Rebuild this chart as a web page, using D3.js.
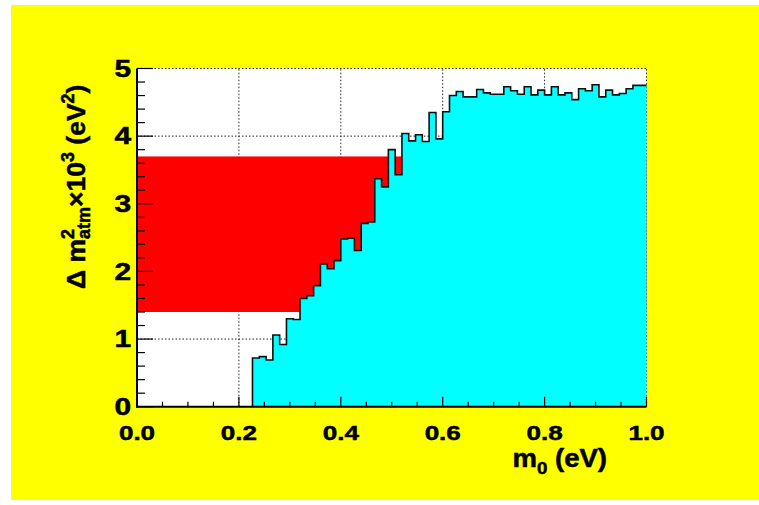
<!DOCTYPE html>
<html>
<head>
<meta charset="utf-8">
<script src="https://cdn.jsdelivr.net/npm/d3@7"></script>
<style>
  body { margin: 0; background: #fff; }
  text { font-family: "Liberation Sans", Arial, sans-serif; font-weight: bold; fill: #000;
         stroke: #000; stroke-width: 0.5px; }
</style>
</head>
<body>
<div id="chart"></div>
<script>
// histogram: 75 bins on [0,1], first filled bin is #17
const nBins = 75;
const firstBin = 17;
const binValues = [
  0.72, 0.74, 0.69, 1.06, 0.92, 1.30, 1.29, 1.60, 1.64, 1.79,
  2.11, 2.04, 2.16, 2.48, 2.49, 2.31, 2.71, 2.73, 3.37, 3.25,
  3.80, 3.43, 4.04, 3.93, 4.02, 3.92, 4.35, 3.96, 4.36, 4.60,
  4.66, 4.58, 4.58, 4.69, 4.64, 4.62, 4.62, 4.73, 4.67, 4.62,
  4.73, 4.61, 4.68, 4.61, 4.73, 4.61, 4.64, 4.54, 4.70, 4.67,
  4.76, 4.58, 4.68, 4.61, 4.63, 4.70, 4.75, 4.75
];
const band = [1.4, 3.7];
const xTicks = [0, 0.2, 0.4, 0.6, 0.8, 1.0];
const yTicks = [0, 1, 2, 3, 4, 5];

const W = 759, H = 505;
const padL = 137, padR = 646.5, padT = 68.5, padB = 406.7;

const svg = d3.select("#chart").append("svg")
  .attr("width", W)
  .attr("height", H);

svg.append("rect")
  .attr("x", 11).attr("y", 5)
  .attr("width", W - 11).attr("height", 495)
  .attr("fill", "#ffff00");

const x = d3.scaleLinear().domain([0, 1]).range([padL, padR]);
const y = d3.scaleLinear().domain([0, 5]).range([padB, padT]);

svg.append("rect")
  .attr("x", x(0)).attr("y", y(5))
  .attr("width", x(1) - x(0)).attr("height", y(0) - y(5))
  .attr("fill", "#fff");

// grid
const grid = svg.append("g")
  .attr("stroke", "#222")
  .attr("stroke-width", 1)
  .attr("stroke-dasharray", "1.5,2");
grid.selectAll(".gx").data(xTicks.slice(1)).enter().append("line")
  .attr("x1", d => x(d)).attr("x2", d => x(d))
  .attr("y1", y(0)).attr("y2", y(5));
grid.selectAll(".gy").data(yTicks.slice(1)).enter().append("line")
  .attr("x1", x(0)).attr("x2", x(1))
  .attr("y1", d => y(d)).attr("y2", d => y(d));

// red band
svg.append("rect")
  .attr("x", x(0)).attr("y", y(band[1]))
  .attr("width", x(1) - x(0)).attr("height", y(band[0]) - y(band[1]))
  .attr("fill", "#ff0000");

// histogram
const pts = binValues.map((v, i) => [(firstBin + i) / nBins, v]);
pts.push([1, binValues[binValues.length - 1]]);

const area = d3.area()
  .x(d => x(d[0])).y0(y(0)).y1(d => y(d[1]))
  .curve(d3.curveStepAfter);
svg.append("path").datum(pts)
  .attr("d", area)
  .attr("fill", "#00ffff");

const line = d3.line()
  .x(d => x(d[0])).y(d => y(d[1]))
  .curve(d3.curveStepAfter);
svg.append("path").datum([[firstBin / nBins, 0]].concat(pts))
  .attr("d", line)
  .attr("fill", "none")
  .attr("stroke", "#111")
  .attr("stroke-width", 1.6);

// axes lines and ticks
const ax = svg.append("g").attr("stroke", "#000");
ax.append("line").attr("x1", x(0)).attr("x2", x(0)).attr("y1", y(0) + 1).attr("y2", y(5))
  .attr("stroke-width", 2);
ax.append("line").attr("x1", x(0) - 1).attr("x2", x(1)).attr("y1", y(0)).attr("y2", y(0))
  .attr("stroke-width", 2);

const yMinor = d3.range(0, 5.001, 0.2);
ax.selectAll(".ty").data(yMinor).enter().append("line")
  .attr("x1", x(0))
  .attr("x2", d => x(0) + (Math.abs(d - Math.round(d)) < 1e-6 ? 16 : 8))
  .attr("y1", d => y(d)).attr("y2", d => y(d))
  .attr("stroke-width", 1.2);

const xMinor = d3.range(0, 1.0001, 0.05);
ax.selectAll(".tx").data(xMinor).enter().append("line")
  .attr("x1", d => x(d)).attr("x2", d => x(d))
  .attr("y1", y(0))
  .attr("y2", d => y(0) - (Math.abs(d * 5 - Math.round(d * 5)) < 1e-6 ? 10 : 5))
  .attr("stroke-width", 1.2);

// tick labels
svg.selectAll(".ylab").data(yTicks).enter().append("text")
  .attr("transform", d => `translate(131,${y(d) + 8.3}) scale(1.3,1)`)
  .attr("text-anchor", "end")
  .attr("font-size", 23)
  .text(d => d);

svg.selectAll(".xlab").data(xTicks).enter().append("text")
  .attr("transform", d => `translate(${x(d)},439.5) scale(1.3,1)`)
  .attr("text-anchor", "middle")
  .attr("font-size", 20)
  .text(d => d.toFixed(1));

// x title
const xt = svg.append("text")
  .attr("transform", "translate(607,467) scale(1.1,1)")
  .attr("text-anchor", "end")
  .attr("font-size", 25);
xt.append("tspan").text("m");
xt.append("tspan").attr("font-size", 17).attr("dy", 7).text("0");
xt.append("tspan").attr("dy", -7).text(" (eV)");

// y title
const yt = svg.append("text")
  .attr("transform", "translate(85,289) rotate(-90)")
  .attr("font-size", 26.5);
yt.append("tspan").text("\u0394 m");
const sup2 = yt.append("tspan").attr("font-size", 18).attr("dy", -11).text("2");
const w2 = sup2.node().getComputedTextLength();
yt.append("tspan").attr("font-size", 18).attr("dx", -w2).attr("dy", 16).text("atm");
yt.append("tspan").attr("dy", -5).text("\u00d710");
yt.append("tspan").attr("font-size", 18).attr("dy", -11).text("3");
yt.append("tspan").attr("dy", 11).text(" (eV");
yt.append("tspan").attr("font-size", 18).attr("dy", -11).text("2");
yt.append("tspan").attr("dy", 11).text(")");
</script>
</body>
</html>
